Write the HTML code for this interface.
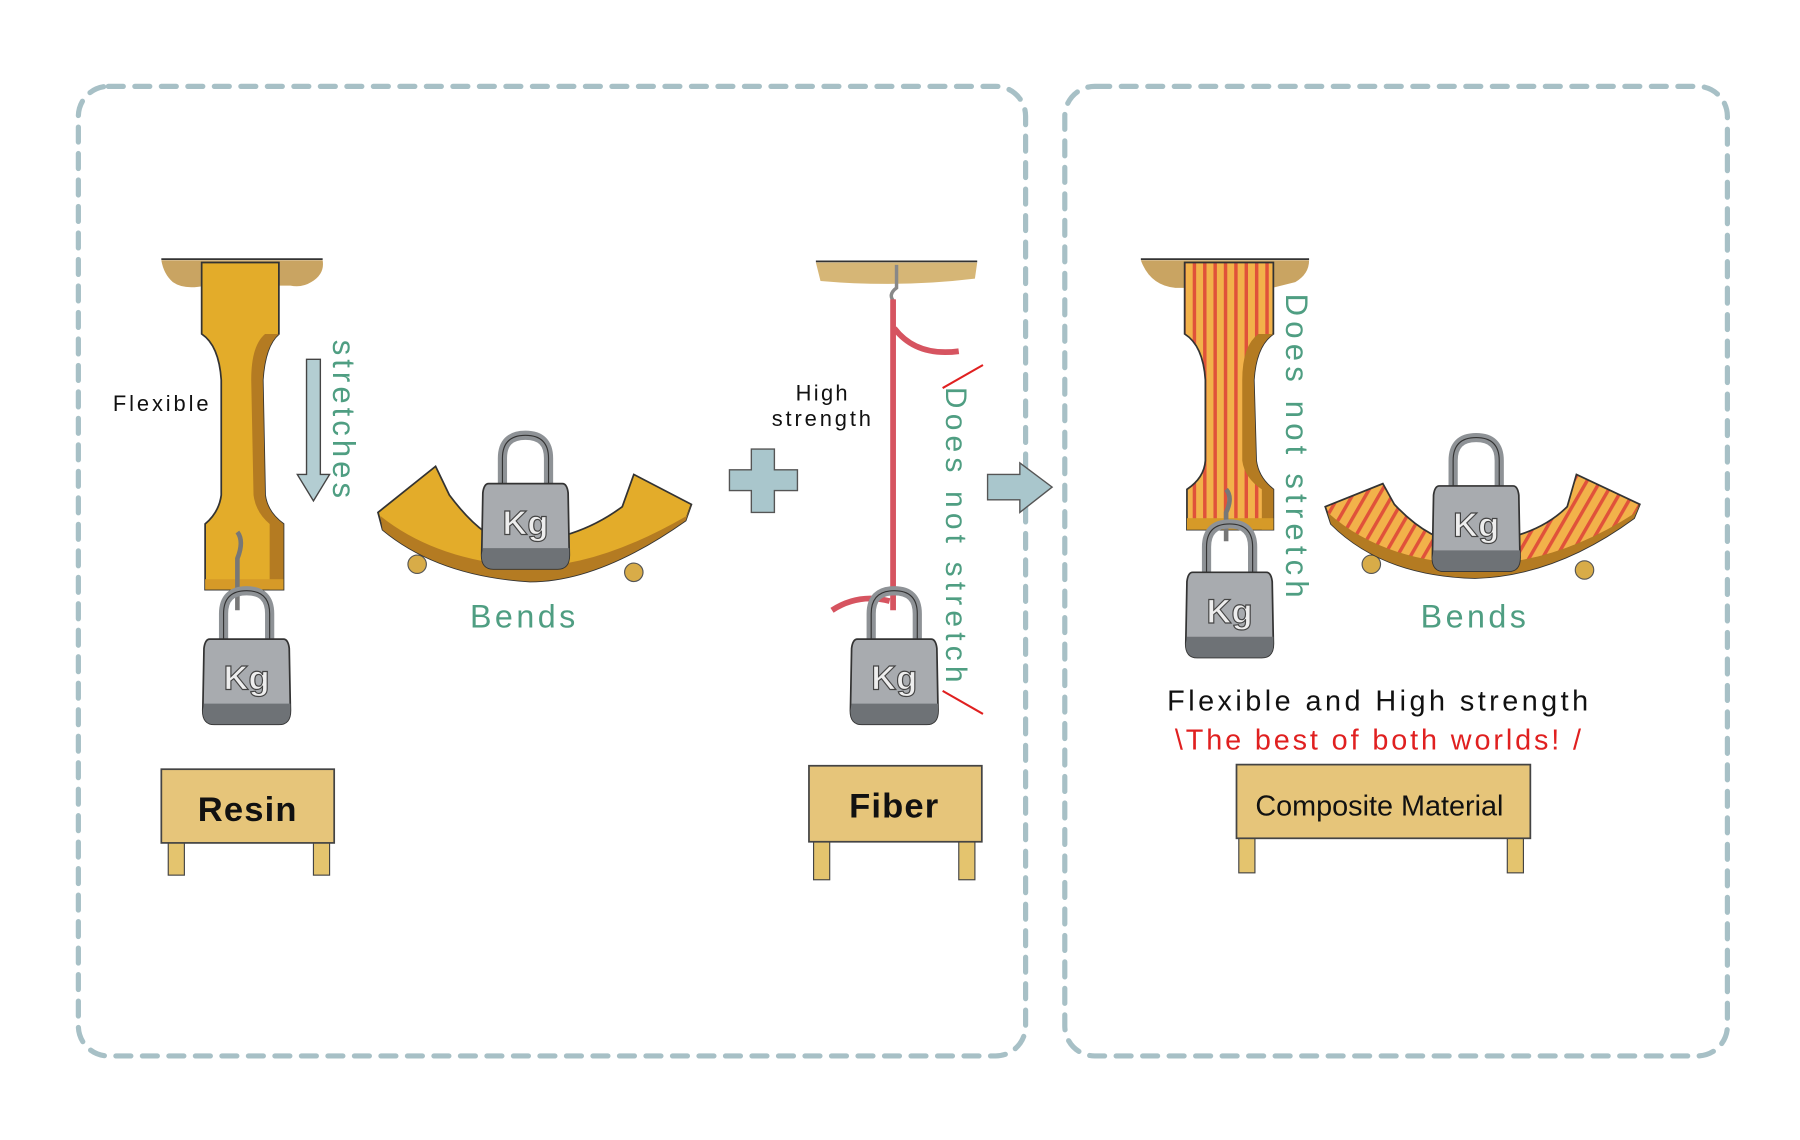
<!DOCTYPE html>
<html><head><meta charset="utf-8"><style>
html,body{margin:0;padding:0;background:#fff;}
svg{display:block}
text{font-family:"Liberation Sans",sans-serif;}
</style></head><body>
<svg width="1800" height="1140" viewBox="0 0 1562 990" preserveAspectRatio="none" xmlns="http://www.w3.org/2000/svg">
<defs>
<pattern id="stripes" width="9" height="9" patternUnits="userSpaceOnUse">
<rect width="9" height="9" fill="#f2b24a"/><rect x="0" width="3" height="9" fill="#e0523a"/>
</pattern>
<pattern id="stripes2" width="10" height="10" patternUnits="userSpaceOnUse" patternTransform="rotate(30)">
<rect width="10" height="10" fill="#f2b24a"/><rect x="0" width="3" height="10" fill="#e0523a"/>
</pattern>
<g id="wt">
<path d="M-20,2 L-20,-22 Q-20,-42 0,-42 Q20,-42 20,-22 L20,2" fill="none" stroke="#8e9296" stroke-width="8"/>
<path d="M-20,2 L-20,-22 Q-20,-42 0,-42 Q20,-42 20,-22 L20,2" fill="none" stroke="#333" stroke-width="1"/>
<path d="M-32,0 L32,0 Q36,0 37,8 L38,62 Q38,74 28,74 L-28,74 Q-38,74 -38,62 L-37,8 Q-36,0 -32,0Z" fill="#a8abaf" stroke="#333" stroke-width="1.5"/>
<path d="M-37,56 L38,56 L38,62 Q38,74 28,74 L-28,74 Q-38,74 -38,62Z" fill="#6e7276"/>
<text x="0" y="44" font-size="30" fill="#eee" stroke="#444" stroke-width="1" text-anchor="middle" font-weight="bold">Kg</text>
</g>
</defs>

<rect x="68" y="75" width="822" height="842" rx="26" fill="none" stroke="#a7c0c6" stroke-width="4.5" stroke-dasharray="13 10" stroke-linecap="round"/>
<rect x="924" y="75" width="575" height="842" rx="26" fill="none" stroke="#a7c0c6" stroke-width="4.5" stroke-dasharray="13 10" stroke-linecap="round"/>

<!-- RESIN -->
<path d="M140,226 L280,226 Q282,238 270,245 Q262,250 252,248 L178,248 Q160,252 150,245 Q142,238 140,226Z" fill="#c9a462"/>
<line x1="140" y1="225" x2="280" y2="225" stroke="#333" stroke-width="1.5"/>
<path d="M175,228 L242,228 L242,290 Q230,300 228,330 L230,430 Q232,445 246,455 L246,512 L178,512 L178,455 Q190,445 192,430 L192,330 Q190,300 175,290Z" fill="#e3ac2a" stroke="#333" stroke-width="1.5"/>
<path d="M230,290 L242,290 Q230,300 228,330 L230,430 Q232,445 246,455 L246,512 L234,512 L234,455 Q222,445 220,430 L218,330 Q218,300 230,290Z" fill="#b47b22"/>
<rect x="178" y="503" width="68" height="9" fill="#d69a28"/>
<path d="M206,462 Q212,470 206,485 L206,530" fill="none" stroke="#777" stroke-width="4"/>
<use href="#wt" x="214" y="555"/>
<text x="98" y="357" font-size="19" fill="#111" letter-spacing="2.5">Flexible</text>
<path d="M266,312 L278,312 L278,412 L286,412 L272,435 L258,412 L266,412Z" fill="#b3cdd2" stroke="#444" stroke-width="1.2"/>
<text transform="translate(289,295) rotate(90)" font-size="27" fill="#4f9e82" letter-spacing="3.5">stretches</text>
<circle cx="362" cy="490" r="8" fill="#d8ac48" stroke="#555"/>
<circle cx="550" cy="497" r="8" fill="#d8ac48" stroke="#555"/>
<path d="M328,445 L378,405 L390,430 Q420,470 445,472 Q500,470 540,440 L550,412 L600,438 L595,452 Q520,505 460,505 Q380,500 332,460Z" fill="#e3ac2a" stroke="#333" stroke-width="1.5"/>
<path d="M332,460 Q380,500 460,505 Q520,505 595,452 L600,438 L596,448 Q520,492 460,492 Q380,488 330,448Z" fill="#b47b22"/>
<use href="#wt" x="456" y="420"/>
<text x="455" y="545" font-size="28" fill="#4f9e82" text-anchor="middle" letter-spacing="3">Bends</text>
<rect x="146" y="730" width="14" height="30" fill="#e4c46e" stroke="#444"/>
<rect x="272" y="730" width="14" height="30" fill="#e4c46e" stroke="#444"/>
<rect x="140" y="668" width="150" height="64" fill="#e6c57a" stroke="#444" stroke-width="1.5"/>
<text x="215" y="713" font-size="30" fill="#111" text-anchor="middle" font-weight="bold" letter-spacing="1">Resin</text>

<path d="M652,390 L672,390 L672,408 L692,408 L692,426 L672,426 L672,445 L652,445 L652,426 L633,426 L633,408 L652,408Z" fill="#a9c6cc" stroke="#555" stroke-width="1.2"/>

<!-- FIBER -->
<path d="M708,228 L848,228 L846,242 Q780,250 712,244Z" fill="#d6b676"/>
<line x1="708" y1="227" x2="848" y2="227" stroke="#333" stroke-width="1.5"/>
<path d="M778,230 L778,250 Q770,256 776,262" fill="none" stroke="#888" stroke-width="3"/>
<line x1="775" y1="260" x2="775" y2="530" stroke="#d65460" stroke-width="5"/>
<path d="M776,285 Q795,310 832,305" fill="none" stroke="#d65460" stroke-width="5"/>
<path d="M772,522 Q745,515 722,530" fill="none" stroke="#d65460" stroke-width="5"/>
<use href="#wt" x="776" y="555"/>
<text x="714" y="348" font-size="19" fill="#111" text-anchor="middle" letter-spacing="2">High</text>
<text x="714" y="370" font-size="19" fill="#111" text-anchor="middle" letter-spacing="2.5">strength</text>
<line x1="818" y1="337" x2="853" y2="317" stroke="#e02020" stroke-width="1.8"/>
<line x1="818" y1="600" x2="853" y2="620" stroke="#e02020" stroke-width="1.8"/>
<text transform="translate(821,336) rotate(90)" font-size="26" fill="#4f9e82" letter-spacing="4.5">Does not stretch</text>
<path d="M857,412 L885,412 L885,402 L913,423 L885,445 L885,434 L857,434Z" fill="#a9c6cc" stroke="#555" stroke-width="1.2"/>
<rect x="706" y="730" width="14" height="34" fill="#e4c46e" stroke="#444"/>
<rect x="832" y="730" width="14" height="34" fill="#e4c46e" stroke="#444"/>
<rect x="702" y="665" width="150" height="66" fill="#e6c57a" stroke="#444" stroke-width="1.5"/>
<text x="776" y="710" font-size="30" fill="#111" text-anchor="middle" font-weight="bold" letter-spacing="1">Fiber</text>

<!-- COMPOSITE -->
<path d="M990,226 L1136,226 Q1136,238 1124,245 L1104,250 L1020,250 Q998,248 990,226Z" fill="#c9a462"/>
<line x1="990" y1="225" x2="1136" y2="225" stroke="#333" stroke-width="1.5"/>
<path d="M1028,228 L1105,228 L1105,290 Q1090,300 1088,330 L1090,400 Q1092,415 1105,425 L1105,460 L1030,460 L1030,425 Q1045,415 1046,400 L1046,330 Q1044,300 1028,290Z" fill="url(#stripes)" stroke="#333" stroke-width="1.5"/>
<path d="M1092,290 L1105,290 Q1090,300 1088,330 L1090,400 Q1092,415 1105,425 L1105,460 L1095,460 L1095,425 Q1080,415 1078,400 L1078,330 Q1078,300 1092,290Z" fill="#b47b22"/>
<rect x="1030" y="450" width="75" height="10" fill="#d69a28"/>
<path d="M1064,425 Q1070,432 1064,445 L1064,470" fill="none" stroke="#777" stroke-width="4"/>
<use href="#wt" x="1067" y="497"/>
<text transform="translate(1116,255) rotate(90)" font-size="27" fill="#4f9e82" letter-spacing="4.5">Does not stretch</text>
<circle cx="1190" cy="490" r="8" fill="#d8ac48" stroke="#555"/>
<circle cx="1375" cy="495" r="8" fill="#d8ac48" stroke="#555"/>
<path d="M1150,440 L1200,420 L1210,438 Q1240,470 1270,472 Q1330,470 1360,440 L1368,412 L1423,438 L1418,450 Q1350,500 1280,502 Q1200,500 1155,455Z" fill="url(#stripes2)" stroke="#333" stroke-width="1.5"/>
<path d="M1155,455 Q1200,500 1280,502 Q1350,500 1418,450 L1423,438 L1418,446 Q1350,490 1280,490 Q1200,488 1152,445Z" fill="#b47b22"/>
<use href="#wt" x="1281" y="422"/>
<text x="1280" y="545" font-size="28" fill="#4f9e82" text-anchor="middle" letter-spacing="3">Bends</text>
<text x="1197" y="617" font-size="25" fill="#111" text-anchor="middle" letter-spacing="3">Flexible and High strength</text>
<text x="1197" y="651" font-size="25" fill="#e02020" text-anchor="middle" letter-spacing="2.5">\The best of both worlds! /</text>
<rect x="1075" y="725" width="14" height="33" fill="#e4c46e" stroke="#444"/>
<rect x="1308" y="725" width="14" height="33" fill="#e4c46e" stroke="#444"/>
<rect x="1073" y="664" width="255" height="64" fill="#e6c57a" stroke="#444" stroke-width="1.5"/>
<text x="1197" y="708" font-size="25" fill="#111" text-anchor="middle">Composite Material</text>
</svg>
</body></html>
